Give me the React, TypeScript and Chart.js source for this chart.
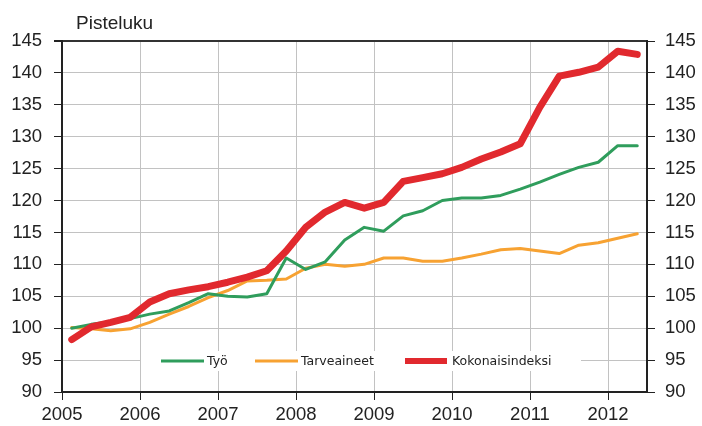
import React, { useEffect, useRef } from "react";
import { Chart, registerables } from "chart.js";

Chart.register(...registerables);

const startYear = 2005;
const yearTicks = [2005, 2006, 2007, 2008, 2009, 2010, 2011, 2012];
const seriesNames = ["Työ", "Tarveaineet", "Kokonaisindeksi"];
const seriesColors = ["#2f9d5c", "#f7a232", "#e1292e"];

const tyo = [100.0, 100.6, 101.0, 101.5, 102.2, 102.7, 104.0, 105.4, 105.0, 104.9, 105.4, 111.0, 109.2, 110.4, 113.8, 115.8, 115.2, 117.6, 118.4, 120.0, 120.4, 120.4, 120.8, 121.8, 122.9, 124.1, 125.2, 126.0, 128.6, 128.6];
const tarveaineet = [100.1, 99.9, 99.6, 99.9, 100.9, 102.2, 103.4, 104.8, 105.9, 107.4, 107.5, 107.7, 109.4, 110.0, 109.7, 110.0, 111.0, 111.0, 110.5, 110.5, 111.0, 111.6, 112.3, 112.5, 112.1, 111.7, 113.0, 113.4, 114.1, 114.8];
const kokonaisindeksi = [98.2, 100.2, 100.9, 101.7, 104.1, 105.4, 106.0, 106.5, 107.2, 108.0, 109.0, 112.1, 115.8, 118.2, 119.7, 118.8, 119.7, 123.0, 123.6, 124.2, 125.2, 126.5, 127.6, 128.9, 134.6, 139.5, 140.1, 140.9, 143.4, 142.9];

const toPoints = (arr: number[]) => arr.map((v, i) => ({ x: startYear + (i + 0.5) / 4, y: v }));

const FONT = "'Liberation Sans', Arial, sans-serif";
const LEGEND_FONT = "'DejaVu Sans', sans-serif";
const TEXT = "#222";

const overlayPlugin = {
  id: "overlay",
  afterDatasetsDraw(chart: any) {
    const ctx = chart.ctx as CanvasRenderingContext2D;
    ctx.save();
    ctx.fillStyle = "#ffffff";
    ctx.fillRect(141, 351, 440, 20);
    const items = [
      { x: 161, w: 43, tx: 207, lw: 3 },
      { x: 255, w: 43, tx: 301, lw: 3 },
      { x: 405, w: 42, tx: 452, lw: 6 },
    ];
    const ly = 361;
    ctx.font = `12.5px ${LEGEND_FONT}`;
    ctx.textBaseline = "middle";
    ctx.textAlign = "left";
    items.forEach((it, i) => {
      const ds = chart.data.datasets[i];
      ctx.strokeStyle = ds.borderColor;
      ctx.lineWidth = it.lw;
      ctx.lineCap = "butt";
      ctx.beginPath();
      ctx.moveTo(it.x, ly);
      ctx.lineTo(it.x + it.w, ly);
      ctx.stroke();
      ctx.fillStyle = TEXT;
      ctx.fillText(ds.label, it.tx, ly + 1);
    });
    ctx.restore();
  },
  afterDraw(chart: any) {
    const ctx = chart.ctx as CanvasRenderingContext2D;
    ctx.save();
    ctx.font = `19px ${FONT}`;
    ctx.fillStyle = TEXT;
    ctx.textBaseline = "middle";
    ctx.textAlign = "left";
    ctx.fillText("Pisteluku", 76, 24);
    ctx.restore();
  },
};

export default function App() {
  const ref = useRef<HTMLCanvasElement | null>(null);
  useEffect(() => {
    if (!ref.current) return;
    const widths = [3, 3, 7];
    const orders = [1, 2, 0];
    const chart = new Chart(ref.current, {
      type: "line",
      data: {
        datasets: [tyo, tarveaineet, kokonaisindeksi].map((arr, i) => ({
          label: seriesNames[i],
          data: toPoints(arr),
          borderColor: seriesColors[i],
          backgroundColor: seriesColors[i],
          borderWidth: widths[i],
          pointRadius: 0,
          tension: 0,
          borderJoinStyle: "round" as const,
          borderCapStyle: "round" as const,
          order: orders[i],
        })),
      },
      options: {
        responsive: false,
        animation: false,
        devicePixelRatio: 1,
        layout: { padding: { top: 41, left: 0, right: 0, bottom: 0 } },
        plugins: { legend: { display: false }, tooltip: { enabled: false }, title: { display: false } },
        scales: {
          x: {
            type: "linear",
            min: 2005,
            max: 2012.5,
            afterBuildTicks: (s: any) => {
              s.ticks = yearTicks.map((v) => ({ value: v }));
            },
            afterFit: (s: any) => {
              s.height = 34;
            },
            ticks: {
              stepSize: 1,
              includeBounds: false,
              autoSkip: false,
              maxRotation: 0,
              padding: 4,
              color: TEXT,
              font: { family: FONT, size: 18.5 },
              callback: (v: any) => String(v),
            },
            grid: { color: "#c2c2c2", tickColor: "#222", tickLength: 8, lineWidth: 1 },
            border: { color: "#222", width: 2 },
          },
          y: {
            position: "left",
            min: 90,
            max: 145,
            afterFit: (s: any) => {
              s.width = 62;
            },
            ticks: { stepSize: 5, padding: 12, color: TEXT, font: { family: FONT, size: 18.5 } },
            grid: {
              color: (c: any) => (c.tick && c.tick.value === 145 ? "#333" : "#c2c2c2"),
              lineWidth: (c: any) => (c.tick && c.tick.value === 145 ? 2 : 1),
              tickColor: "#222",
              tickLength: 8,
            },
            border: { color: "#222", width: 2 },
          },
          y2: {
            position: "right",
            min: 90,
            max: 145,
            afterFit: (s: any) => {
              s.width = 55;
            },
            ticks: { stepSize: 5, padding: 10, color: TEXT, font: { family: FONT, size: 18.5 } },
            grid: { drawOnChartArea: false, tickColor: "#222", tickLength: 8 },
            border: { color: "#222", width: 2 },
          },
        },
      },
      plugins: [overlayPlugin],
    } as any);
    return () => chart.destroy();
  }, []);
  return (
    <div style={{ position: "fixed", left: 0, top: 0, width: 702, height: 426, background: "#fff" }}>
      <canvas ref={ref} width={702} height={426} style={{ width: 702, height: 426, display: "block" }} />
    </div>
  );
}
